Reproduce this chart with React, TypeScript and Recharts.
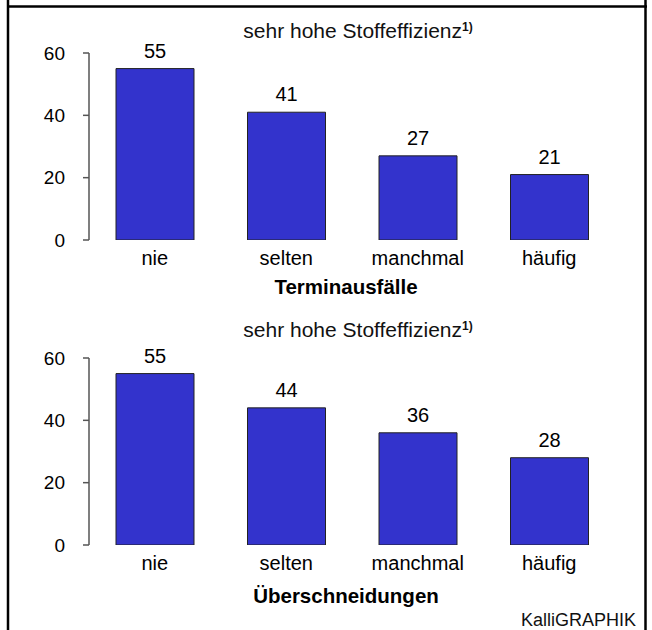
import React from 'react';
import { BarChart, Bar, XAxis, YAxis, LabelList } from 'recharts';

const categories = ['nie', 'selten', 'manchmal', 'häufig'];
const terminausfaelleValues = [55, 41, 27, 21];
const ueberschneidungenValues = [55, 44, 36, 28];
const yTicks = [0, 20, 40, 60];

const subtitle = 'sehr hohe Stoffeffizienz';
const footnoteMark = '1)';
const panelTitles = ['Terminausfälle', 'Überschneidungen'];
const credit = 'KalliGRAPHIK';

const FONT = '"Liberation Sans", Arial, sans-serif';
const BAR_FILL = '#3333cc';

function buildData(values: number[]) {
  return categories.map((c, i) => ({ category: c, value: values[i] }));
}

function Panel({ values, top }: { values: number[]; top: number }) {
  const data = buildData(values);
  return (
    <div style={{ position: 'absolute', left: 0, top, width: 652, height: 280 }}>
      <BarChart
        width={652}
        height={280}
        data={data}
        margin={{ top: 53, right: 37, bottom: 0, left: 29 }}
        barSize={78}
      >
        <XAxis
          dataKey="category"
          axisLine={false}
          tickLine={false}
          tickSize={0}
          tickMargin={11}
          height={40}
          interval={0}
          tick={{ fontSize: 20, fill: '#000', fontFamily: FONT }}
        />
        <YAxis
          domain={[0, 60]}
          ticks={yTicks}
          width={60}
          tickSize={6}
          tickMargin={18}
          axisLine={{ stroke: '#555', strokeWidth: 1.5 }}
          tickLine={{ stroke: '#555', strokeWidth: 1.5 }}
          tick={{ fontSize: 19, fill: '#000', fontFamily: FONT }}
          allowDataOverflow
        />
        <Bar dataKey="value" fill={BAR_FILL} stroke="#222" strokeWidth={1} isAnimationActive={false}>
          <LabelList
            dataKey="value"
            position="top"
            offset={11}
            style={{ fontSize: 20, fill: '#000', fontFamily: FONT }}
          />
        </Bar>
      </BarChart>
    </div>
  );
}

export default function App() {
  return (
    <div
      style={{
        position: 'absolute',
        left: 0,
        top: 0,
        width: 652,
        height: 630,
        background: '#fff',
        overflow: 'hidden',
        fontFamily: FONT,
      }}
    >
      <Panel values={terminausfaelleValues} top={0} />
      <Panel values={ueberschneidungenValues} top={305} />
      <svg
        width={652}
        height={630}
        style={{ position: 'absolute', left: 0, top: 0, pointerEvents: 'none' }}
        fontFamily={FONT}
      >
        <line x1={8} y1={0} x2={8} y2={630} stroke="#000" strokeWidth={2.5} />
        <line x1={645.5} y1={0} x2={645.5} y2={630} stroke="#000" strokeWidth={2.5} />
        <line x1={7} y1={6.5} x2={647} y2={6.5} stroke="#000" strokeWidth={2.5} />

        <text x={358} y={38} textAnchor="middle" fontSize={21} fill="#111">
          {subtitle}
          <tspan fontSize={12} fontWeight="bold" dy={-7}>{footnoteMark}</tspan>
        </text>
        <text x={346} y={294} textAnchor="middle" fontSize={20.5} fontWeight="bold" fill="#000">
          {panelTitles[0]}
        </text>

        <text x={358} y={337} textAnchor="middle" fontSize={21} fill="#111">
          {subtitle}
          <tspan fontSize={12} fontWeight="bold" dy={-7}>{footnoteMark}</tspan>
        </text>
        <text x={346} y={603} textAnchor="middle" fontSize={20.5} fontWeight="bold" fill="#000">
          {panelTitles[1]}
        </text>

        <text x={636} y={626} textAnchor="end" fontSize={18} fill="#111">
          {credit}
        </text>
      </svg>
    </div>
  );
}
